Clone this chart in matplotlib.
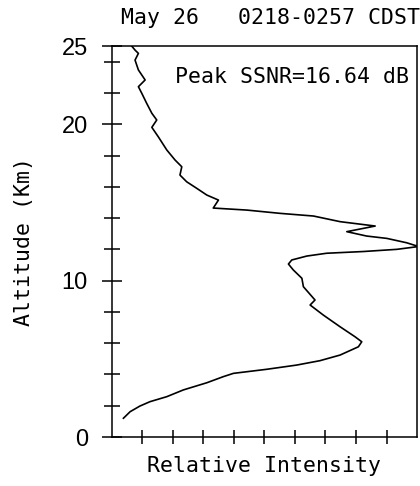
import matplotlib
matplotlib.use('Agg')
import matplotlib.pyplot as plt

# profil (relative intensity, altitude km)
intensity = [0.66, 0.77, 0.88, 0.77, 0.88, 1.10, 0.88, 0.99, 1.15, 1.32,
             1.48, 1.32, 1.53, 1.81, 2.08, 2.30, 2.24, 2.46, 2.79, 3.12,
             3.50, 3.33, 4.43, 5.52, 6.61, 7.48, 8.63, 7.70, 8.35, 9.01,
             9.66, 10.05, 9.34, 8.24, 7.04, 6.39, 5.90, 5.79, 5.95, 6.23,
             6.28, 6.66, 6.50, 6.93, 7.48, 7.97, 8.19, 8.08, 7.48, 6.82,
             6.06, 5.08, 3.99, 3.66, 3.12, 2.35, 1.81, 1.26, 0.93, 0.61,
             0.39]
altitude = [25.00, 24.74, 24.53, 24.10, 23.47, 22.83, 22.40, 21.98, 21.34, 20.70,
            20.27, 19.80, 19.20, 18.35, 17.71, 17.28, 16.75, 16.32, 15.90, 15.47,
            15.15, 14.64, 14.51, 14.30, 14.13, 13.77, 13.49, 13.13, 12.85, 12.70,
            12.42, 12.18, 12.00, 11.86, 11.75, 11.57, 11.32, 11.06, 10.68, 10.15,
            9.61, 8.76, 8.44, 7.80, 7.05, 6.41, 6.09, 5.77, 5.24, 4.88,
            4.60, 4.33, 4.07, 3.86, 3.47, 3.01, 2.58, 2.26, 1.98, 1.62,
            1.20]

y_major = [0, 10, 20, 25]
y_minor = [2, 4, 6, 8, 12, 14, 16, 18, 22, 24]
x_ticks = list(range(1, 10))

mono = 'DejaVu Sans Mono'
num_font = 'Liberation Sans'

fig = plt.figure(figsize=(4.2, 4.86), dpi=100)
ax = fig.add_axes([0.2655, 0.1008, 0.7275, 0.8045])

ax.plot(intensity, altitude, color='black', lw=1.2)
ax.set_xlim(0, 10)
ax.set_ylim(0, 25)

for s in ax.spines.values():
    s.set_linewidth(1.1)

ax.set_yticks(y_major)
ax.set_yticks(y_minor, minor=True)
ax.set_xticks(x_ticks)
ax.set_xticklabels([])
ax.tick_params(axis='y', which='major', direction='inout', length=14, width=1.1, pad=10)
ax.tick_params(axis='y', which='minor', direction='inout', length=11, width=1.1)
ax.tick_params(axis='x', which='major', direction='inout', length=10, width=1.1)
for lab in ax.get_yticklabels():
    lab.set_family(num_font)
    lab.set_fontsize(17)

ax.set_ylabel('Altitude (Km)', family=mono, fontsize=15.5, labelpad=20)
ax.set_xlabel('Relative Intensity', family=mono, fontsize=15.5, labelpad=5)
ax.set_title('May 26   0218-0257 CDST', family=mono, fontsize=15.5, pad=16, x=0.52)

ax.text(0.975, 0.92, 'Peak SSNR=16.64 dB', transform=ax.transAxes,
        ha='right', va='center', family=mono, fontsize=15.5)

plt.savefig('out.png', dpi=100)
